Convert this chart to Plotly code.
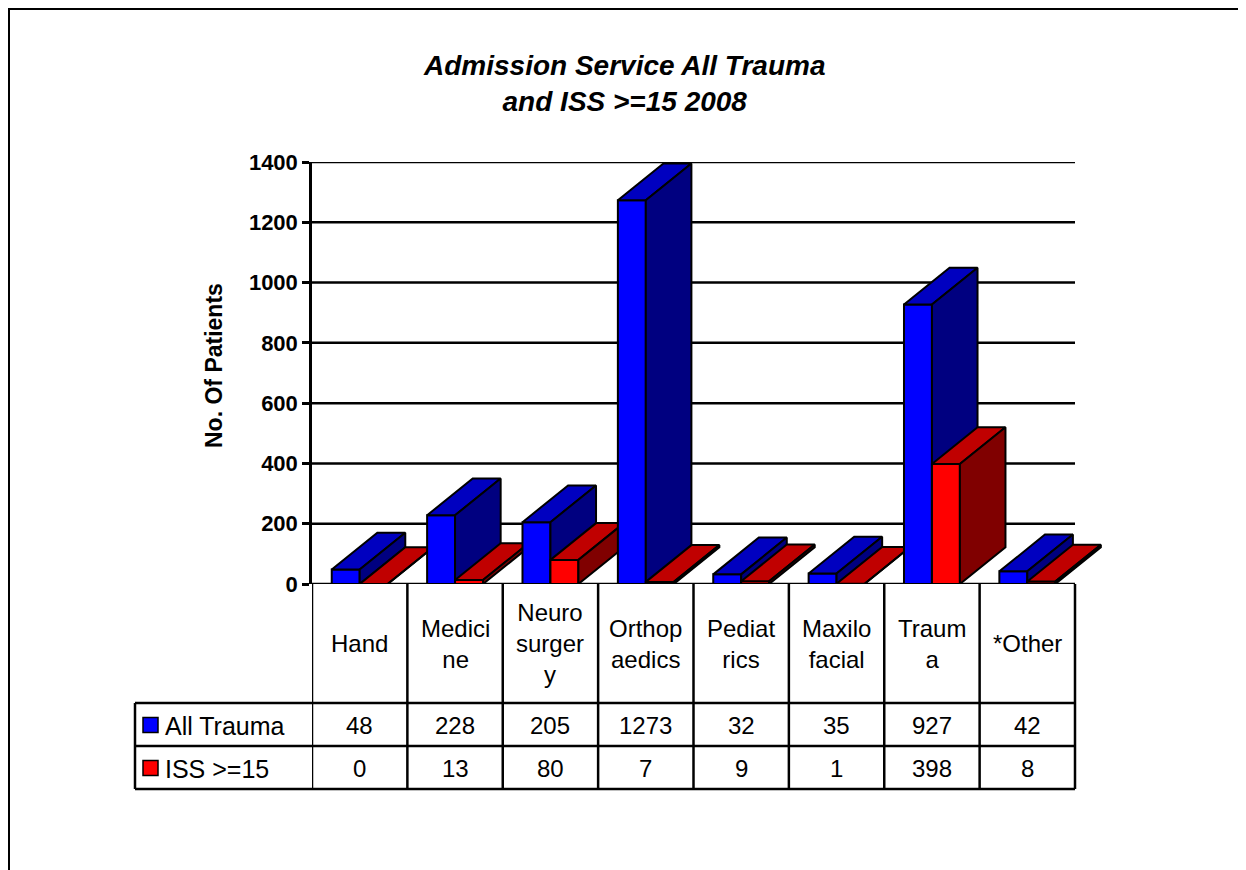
import plotly.graph_objects as go

# ---------------- data ----------------
categories = ["Hand", "Medici<br>ne", "Neuro<br>surger<br>y", "Orthop<br>aedics",
              "Pediat<br>rics", "Maxilo<br>facial", "Traum<br>a", "*Other"]
all_trauma = [48, 228, 205, 1273, 32, 35, 927, 42]
iss15 = [0, 13, 80, 7, 9, 1, 398, 8]
series_names = ["All Trauma", "ISS >=15"]
title_text = "Admission Service All Trauma<br>and ISS >=15 2008"
y_title = "No. Of Patients"
y_ticks = [0, 200, 400, 600, 800, 1000, 1200, 1400]

# ---------------- style ----------------
PAGE_OFF = 8                 # default body margin of the html page
FW, FH = 1238, 862           # figure size so that it fits the 1246x870 window
FONT = "Arial, 'Liberation Sans', sans-serif"
face_colors = [
    {"front": "#0000FF", "top": "#0000C0", "side": "#000080"},
    {"front": "#FF0000", "top": "#C00000", "side": "#800000"},
]
BAR_W = 0.293      # bar width in category units
DX = 0.478         # 3D depth offset (category units)
DY = 122           # 3D depth offset (value units)
N = len(categories)
X_EXTRA = 0.6      # room on the right for the 3D depth of the last bars


def px_x(p):
    return (p - PAGE_OFF) / FW


def px_y(p):
    return 1 - (p - PAGE_OFF) / FH


AX_L, AX_R = 312, 1075
CAT_PX = (AX_R - AX_L) / N
X_DOM = [px_x(AX_L), px_x(AX_R + X_EXTRA * CAT_PX)]
Y_DOM = [px_y(584), px_y(162)]

fig = go.Figure()

series = [all_trauma, iss15]
for i in range(N):
    for s, vals in enumerate(series):
        v = vals[i]
        x0 = i + 0.5 - BAR_W + s * BAR_W
        x1 = x0 + BAR_W
        faces = {
            "front": ([x0, x1, x1, x0, x0], [0, 0, v, v, 0]),
            "top": ([x0, x1, x1 + DX, x0 + DX, x0], [v, v, v + DY, v + DY, v]),
            "side": ([x1, x1 + DX, x1 + DX, x1, x1], [0, DY, v + DY, v, 0]),
        }
        for fname in ["front", "top", "side"]:
            xs, ys = faces[fname]
            fig.add_trace(go.Scatter(
                x=xs, y=ys, mode="lines", fill="toself",
                fillcolor=face_colors[s][fname],
                line=dict(color="black", width=2),
                showlegend=False, hoverinfo="text",
                text=f"{series_names[s]}: {v}",
            ))

fig.update_layout(
    width=FW, height=FH,
    margin=dict(l=0, r=0, t=0, b=0, pad=0),
    paper_bgcolor="white", plot_bgcolor="rgba(0,0,0,0)",
    showlegend=False,
    font=dict(family=FONT, color="black"),
    xaxis=dict(domain=X_DOM, range=[0, N + X_EXTRA], showgrid=False, automargin=False,
               zeroline=False, showline=False, showticklabels=False, ticks=""),
    yaxis=dict(domain=Y_DOM, range=[0, 1400], tickvals=y_ticks, automargin=False,
               showgrid=False, zeroline=False,
               showline=True, linecolor="black", linewidth=2.5,
               ticks="outside", ticklen=7, tickwidth=2.5, tickcolor="black",
               tickfont=dict(family=FONT, size=22, color="black", weight="bold")),
)

line = dict(color="black", width=2.5)
# horizontal gridlines (only across the category area)
for t in y_ticks:
    fig.add_shape(type="line", xref="x", yref="y", x0=0, x1=N, y0=t, y1=t,
                  line=line, layer="below")

# title
fig.add_annotation(text=f"<b><i>{title_text}</i></b>", xref="paper", yref="paper",
                   x=px_x(624), y=px_y(84), xanchor="center", yanchor="middle",
                   showarrow=False, font=dict(family=FONT, size=28, color="black"))
# y-axis title
fig.add_annotation(text=f"<b>{y_title}</b>", xref="paper", yref="paper",
                   x=px_x(214), y=px_y(366), xanchor="center", yanchor="middle",
                   textangle=-90, showarrow=False,
                   font=dict(family=FONT, size=23, color="black"))

# ---------------- data table ----------------
T_TOP, T_HDR, T_R1, T_R2 = 584, 703, 746, 789
LBL_LEFT = 135
for k in range(N + 1):
    fig.add_shape(type="line", xref="x", yref="paper", x0=k, x1=k,
                  y0=px_y(T_TOP), y1=px_y(T_R2), line=line)
for yy in [T_HDR, T_R1, T_R2]:
    fig.add_shape(type="line", xref="paper", yref="paper",
                  x0=px_x(LBL_LEFT), x1=px_x(AX_R), y0=px_y(yy), y1=px_y(yy), line=line)
fig.add_shape(type="line", xref="paper", yref="paper", x0=px_x(LBL_LEFT), x1=px_x(LBL_LEFT),
              y0=px_y(T_HDR), y1=px_y(T_R2), line=line)

for i, c in enumerate(categories):
    fig.add_annotation(text=c, xref="x", yref="paper", x=i + 0.5,
                       y=px_y((T_TOP + T_HDR) / 2), xanchor="center", yanchor="middle",
                       showarrow=False, align="center",
                       font=dict(family=FONT, size=24, color="black"))
row_centers = [(T_HDR + T_R1) / 2, (T_R1 + T_R2) / 2]
for s, vals in enumerate(series):
    for i, v in enumerate(vals):
        fig.add_annotation(text=str(v), xref="x", yref="paper", x=i + 0.5,
                           y=px_y(row_centers[s] + 1), xanchor="center", yanchor="middle",
                           showarrow=False, font=dict(family=FONT, size=24, color="black"))
    fig.add_shape(type="rect", xref="paper", yref="paper",
                  x0=px_x(143), x1=px_x(158),
                  y0=px_y(row_centers[s] + 8), y1=px_y(row_centers[s] - 7),
                  fillcolor=face_colors[s]["front"], line=dict(color="black", width=1.5))
    fig.add_annotation(text=series_names[s], xref="paper", yref="paper",
                       x=px_x(163), y=px_y(row_centers[s] + 1),
                       xanchor="left", yanchor="middle", showarrow=False,
                       font=dict(family=FONT, size=25, color="black"))

# outer chart-area border (bottom edge lies below the visible page)
fig.add_shape(type="rect", xref="paper", yref="paper",
              x0=px_x(9), x1=px_x(1243), y0=-0.05, y1=px_y(9),
              line=dict(color="black", width=2), fillcolor="rgba(0,0,0,0)", layer="below")

fig.write_html("out.html")
